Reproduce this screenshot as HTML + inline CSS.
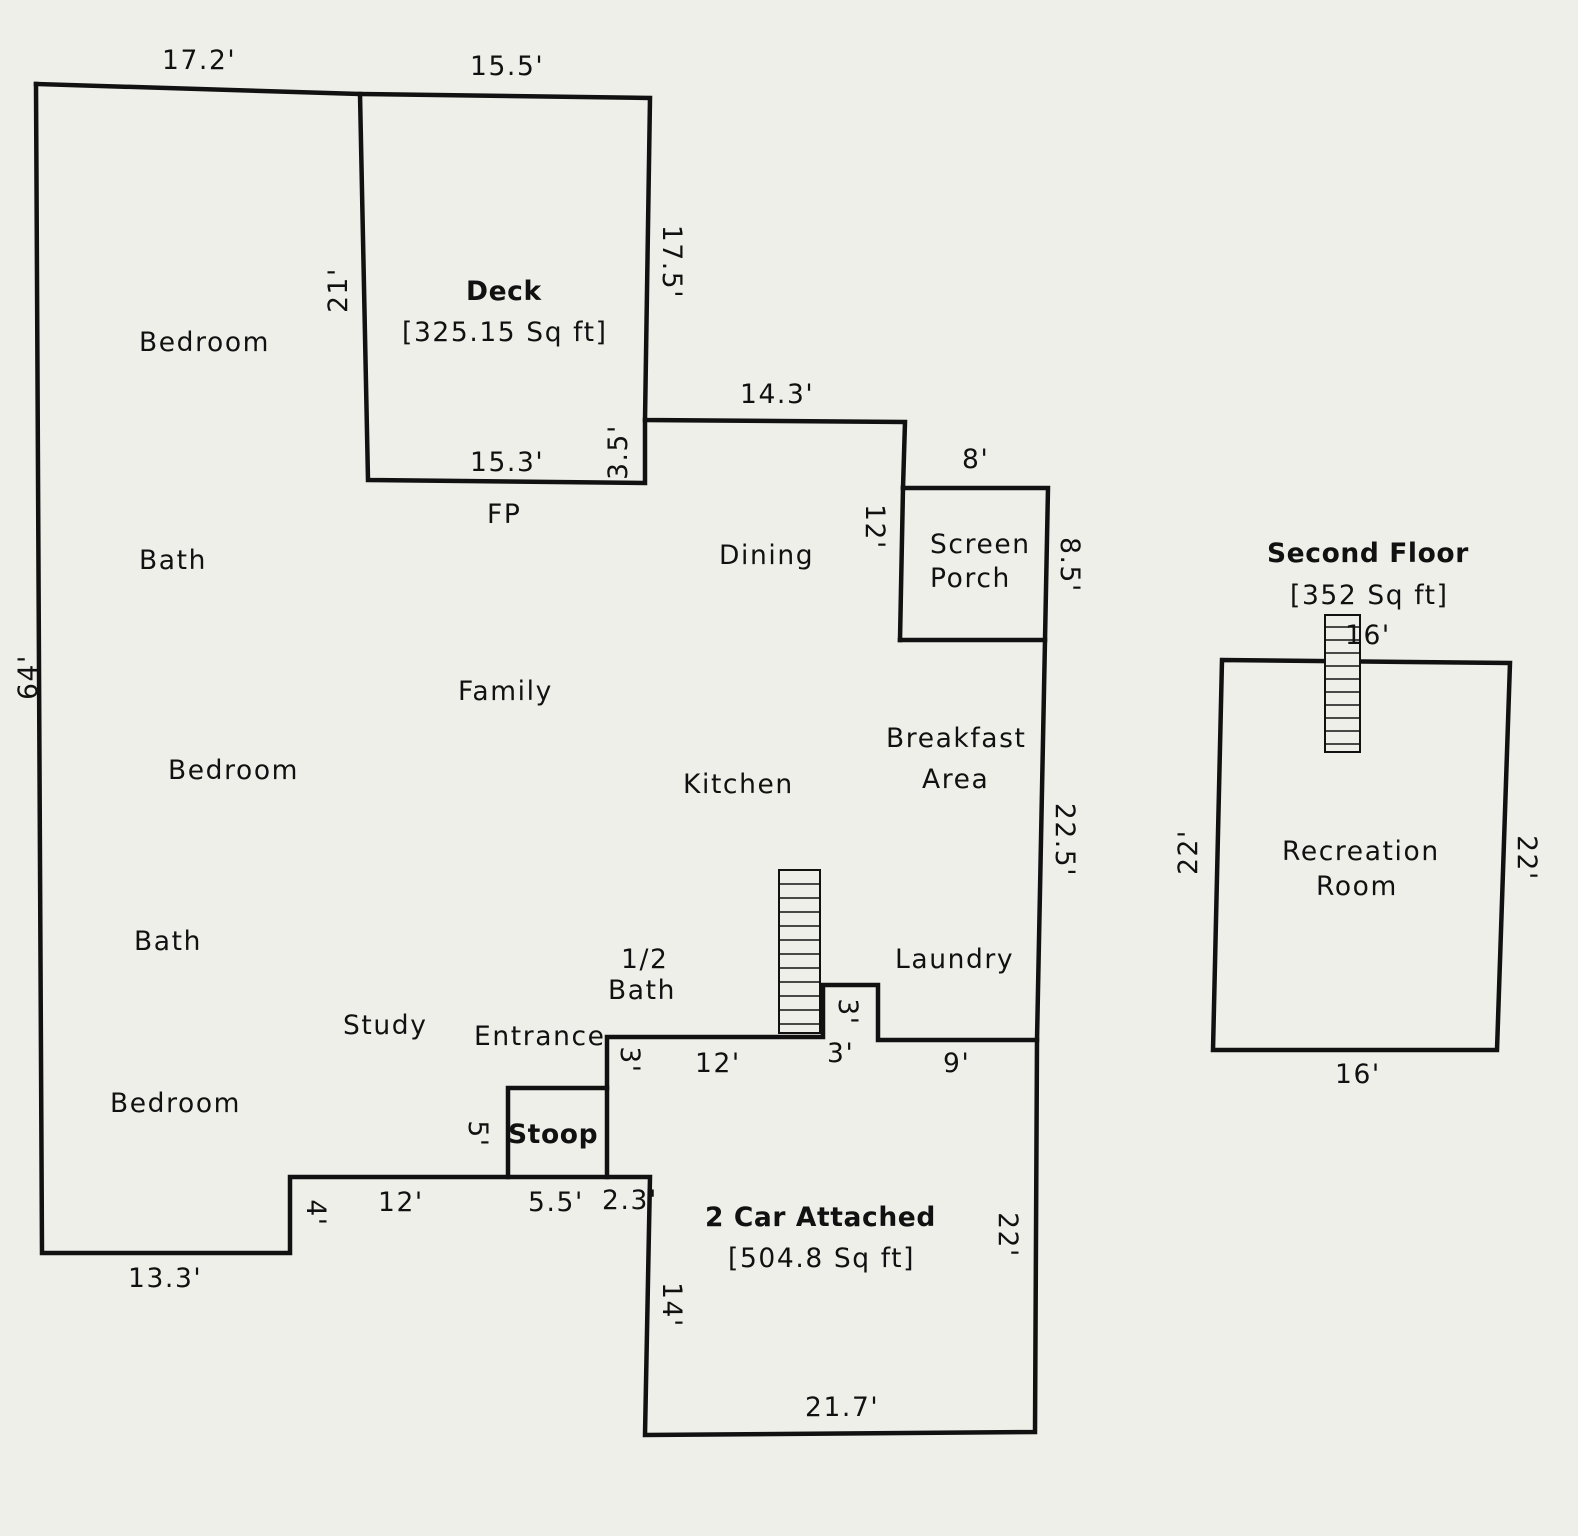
<!DOCTYPE html>
<html><head><meta charset="utf-8"><style>
html,body{margin:0;padding:0;background:#efefea;}
svg{display:block}
text{font-family:"DejaVu Sans","Liberation Sans",sans-serif;font-size:26.5px;letter-spacing:1.6px;fill:#111;}
.b{font-weight:bold;letter-spacing:0.6px}
</style></head><body>
<svg width="1578" height="1536" viewBox="0 0 1578 1536" xmlns="http://www.w3.org/2000/svg">
<rect width="1578" height="1536" fill="#efefea"/>
<g stroke="#111" stroke-width="4.5" fill="none" stroke-linecap="square">
<polyline points="36,84 360,94 650,98 645,420 905,422 903,488"/>
<polyline points="360,94 368,480 645,483 645,420"/>
<polyline points="903,488 1048,488 1045,640 1037,1040 878,1040 878,985 823,985 823,1037 607,1037 607,1177"/>
<polyline points="900,640 1045,640"/>
<polyline points="903,488 900,640"/>
<polyline points="508,1177 508,1088 607,1088"/>
<polyline points="1037,1040 1035,1432 645,1435 650,1177 290,1177 290,1253 42,1253 36,84"/>
<polygon points="1222,660 1510,663 1497,1050 1213,1050"/>
</g>
<g stroke="#111" stroke-width="2" fill="#efefea">
<rect x="779" y="870" width="41" height="163"/>
<rect x="1325" y="615" width="35" height="137"/>
</g>
<g stroke="#111" stroke-width="1.5">
<path d="M779,884H820M779,898H820M779,912H820M779,926H820M779,940H820M779,954H820M779,968H820M779,982H820M779,996H820M779,1010H820M779,1024H820"/>
<path d="M1325,627H1360M1325,640H1360M1325,653H1360M1325,666H1360M1325,679H1360M1325,692H1360M1325,705H1360M1325,718H1360M1325,731H1360M1325,744H1360"/>
</g>
<text x="162" y="69">17.2'</text>
<text x="470" y="75">15.5'</text>
<text x="466" y="300" class="b">Deck</text>
<text x="402" y="341">[325.15 Sq ft]</text>
<text x="139" y="351">Bedroom</text>
<text x="740" y="403">14.3'</text>
<text x="470" y="471">15.3'</text>
<text x="962" y="468">8'</text>
<text x="487" y="523">FP</text>
<text x="930" y="553">Screen</text>
<text x="930" y="587">Porch</text>
<text x="139" y="569">Bath</text>
<text x="719" y="564">Dining</text>
<text x="1267" y="562" class="b">Second Floor</text>
<text x="1290" y="604">[352 Sq ft]</text>
<text x="1345" y="644">16'</text>
<text x="458" y="700">Family</text>
<text x="886" y="747">Breakfast</text>
<text x="922" y="788">Area</text>
<text x="168" y="779">Bedroom</text>
<text x="683" y="793">Kitchen</text>
<text x="1282" y="860">Recreation</text>
<text x="1316" y="895">Room</text>
<text x="134" y="950">Bath</text>
<text x="895" y="968">Laundry</text>
<text x="621" y="968">1/2</text>
<text x="608" y="999">Bath</text>
<text x="343" y="1034">Study</text>
<text x="474" y="1045">Entrance</text>
<text x="695" y="1072">12'</text>
<text x="827" y="1062">3'</text>
<text x="943" y="1072">9'</text>
<text x="1335" y="1083">16'</text>
<text x="110" y="1112">Bedroom</text>
<text x="508" y="1143" class="b">Stoop</text>
<text x="378" y="1211">12'</text>
<text x="528" y="1211">5.5'</text>
<text x="602" y="1209">2.3'</text>
<text x="705" y="1226" class="b">2 Car Attached</text>
<text x="728" y="1267">[504.8 Sq ft]</text>
<text x="128" y="1287">13.3'</text>
<text x="805" y="1416">21.7'</text>
<text transform="translate(347,290) rotate(-90)" text-anchor="middle">21'</text>
<text transform="translate(663,262) rotate(90)" text-anchor="middle">17.5'</text>
<text transform="translate(627,452) rotate(-90)" text-anchor="middle">3.5'</text>
<text transform="translate(866,527) rotate(90)" text-anchor="middle">12'</text>
<text transform="translate(1061,565) rotate(90)" text-anchor="middle">8.5'</text>
<text transform="translate(37,677) rotate(-90)" text-anchor="middle">64'</text>
<text transform="translate(1056,840) rotate(90)" text-anchor="middle">22.5'</text>
<text transform="translate(1197,852) rotate(-90)" text-anchor="middle">22'</text>
<text transform="translate(1518,858) rotate(90)" text-anchor="middle">22'</text>
<text transform="translate(839,1012) rotate(90)" text-anchor="middle">3'</text>
<text transform="translate(621,1060) rotate(90)" text-anchor="middle">3'</text>
<text transform="translate(469,1134) rotate(90)" text-anchor="middle">5'</text>
<text transform="translate(307,1213) rotate(90)" text-anchor="middle">4'</text>
<text transform="translate(999,1235) rotate(90)" text-anchor="middle">22'</text>
<text transform="translate(663,1305) rotate(90)" text-anchor="middle">14'</text>
</svg>
</body></html>
